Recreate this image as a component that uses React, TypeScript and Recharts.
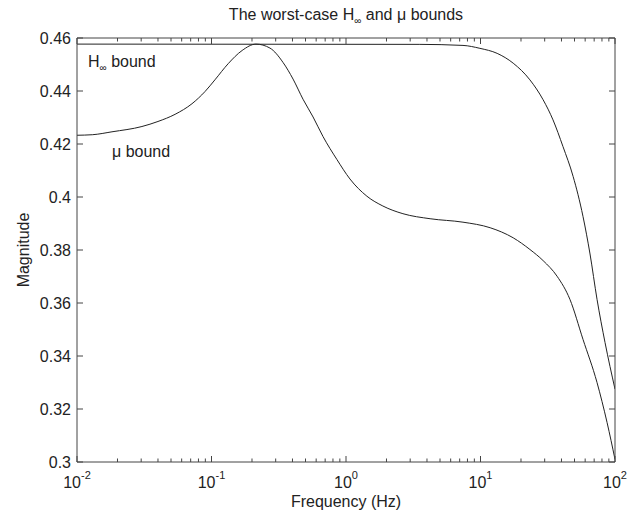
import { LineChart, Line, XAxis, YAxis } from "recharts";

const FREQ_TICKS = [0.01, 0.1, 1, 10, 100];
const FREQ_EXPONENTS = ["-2", "-1", "0", "1", "2"];
const MINOR_STEPS = [2, 3, 4, 5, 6, 7, 8, 9];
const MAG_TICKS = [0.3, 0.32, 0.34, 0.36, 0.38, 0.4, 0.42, 0.44, 0.46];
const MAG_LABELS = ["0.3", "0.32", "0.34", "0.36", "0.38", "0.4", "0.42", "0.44", "0.46"];

// mu bound
const MU_FREQ = [
  0.01, 0.013, 0.0182, 0.0304, 0.04, 0.0536, 0.0716, 0.0895, 0.106, 0.133, 0.169, 0.214,
  0.272, 0.34, 0.404, 0.479, 0.569, 0.675, 0.857, 1.07, 1.43, 1.88, 2.65, 4.22, 7.41,
  11.8, 17.5, 23.3, 29.2, 37.1, 46.2, 57.8, 73.5, 87.3, 100,
];
const MU_MAG = [
  0.4233, 0.4235, 0.4246, 0.4266, 0.4285, 0.4312, 0.4352, 0.4398, 0.4442, 0.4503, 0.4553,
  0.4577, 0.4562, 0.4508, 0.4445, 0.4369, 0.4302, 0.4228, 0.4141, 0.4068, 0.4003, 0.3966,
  0.3937, 0.3918, 0.3905, 0.3884, 0.3846, 0.3802, 0.376, 0.3701, 0.3614, 0.3463, 0.33,
  0.3149, 0.301,
];

// H-infinity bound
const HINF_FREQ = [0.01, 3.5, 7.41, 9.9, 13.3, 17.5, 23.3, 29.2, 34.6, 41, 48.8, 57.8, 65.2, 73.5, 84.3, 100];
const HINF_MAG = [
  0.4577, 0.4576, 0.4572, 0.4561, 0.4542, 0.4505, 0.4442, 0.4367, 0.4291, 0.4191, 0.4078,
  0.3927, 0.3785, 0.3614, 0.3451, 0.3275,
];

const muData = MU_FREQ.map((f, i) => ({ f, v: MU_MAG[i] }));
const hinfData = HINF_FREQ.map((f, i) => ({ f, v: HINF_MAG[i] }));
const minorTicks = FREQ_TICKS.slice(0, -1).flatMap((d) => MINOR_STEPS.map((m) => +(d * m).toPrecision(3)));
const allFreqTicks = [...FREQ_TICKS, ...minorTicks].sort((a, b) => a - b);

const FONT = '"Liberation Sans", Arial, Helvetica, sans-serif';
const INK = "#222";
const AXIS = "#444";
const W = 639;
const H = 519;
const MAJOR = 6;
const MINOR = 3.5;

const isMajor = (v: number) => FREQ_TICKS.includes(v);

// bottom axis: inward tick + 10^n label on decades
const BottomTick = (props: any) => {
  const { x, y, payload } = props;
  const major = isMajor(payload.value);
  const i = FREQ_TICKS.indexOf(payload.value);
  return (
    <g>
      <line x1={x} x2={x} y1={y} y2={y - (major ? MAJOR : MINOR)} stroke={AXIS} />
      {major && (
        <text x={x} y={y + 26} textAnchor="middle" fontFamily={FONT} fontSize={16} fill={INK}>
          <tspan>10</tspan>
          <tspan dy={-9} fontSize={11}>
            {FREQ_EXPONENTS[i]}
          </tspan>
        </text>
      )}
    </g>
  );
};

const TopTick = (props: any) => {
  const { x, y, payload } = props;
  return <line x1={x} x2={x} y1={y} y2={y + (isMajor(payload.value) ? MAJOR : MINOR)} stroke={AXIS} />;
};

const LeftTick = (props: any) => {
  const { x, y, payload } = props;
  const i = MAG_TICKS.findIndex((t) => Math.abs(t - payload.value) < 1e-9);
  return (
    <g>
      <line x1={x} x2={x + MAJOR} y1={y} y2={y} stroke={AXIS} />
      <text x={x - 6} y={y} dy={5.5} textAnchor="end" fontFamily={FONT} fontSize={16} fill={INK}>
        {MAG_LABELS[i]}
      </text>
    </g>
  );
};

const RightTick = (props: any) => {
  const { x, y } = props;
  return <line x1={x} x2={x - MAJOR} y1={y} y2={y} stroke={AXIS} />;
};

const xCommon = {
  type: "number" as const,
  dataKey: "f",
  scale: "log" as const,
  domain: [0.01, 100],
  allowDataOverflow: true,
  ticks: allFreqTicks,
  interval: 0,
  tickLine: false,
  tickSize: 0,
  tickMargin: 0,
  stroke: AXIS,
};
const yCommon = {
  type: "number" as const,
  domain: [0.3, 0.46],
  allowDataOverflow: true,
  ticks: MAG_TICKS,
  interval: 0,
  tickLine: false,
  tickSize: 0,
  tickMargin: 0,
  stroke: AXIS,
};

const sub = { fontSize: 10, lineHeight: 0, verticalAlign: "-4px" };

export default function App() {
  return (
    <div style={{ position: "absolute", left: 0, top: 0, width: W, height: H, background: "#fff", fontFamily: FONT, color: INK, lineHeight: "18px" }}>
      <div style={{ position: "absolute", left: 77, width: 538, top: 6, textAlign: "center", fontSize: 16 }}>
        The worst-case H<span style={sub}>∞</span> and μ bounds
      </div>
      <div style={{ position: "absolute", left: 77, width: 538, top: 493, textAlign: "center", fontSize: 16 }}>
        Frequency (Hz)
      </div>
      <div
        style={{
          position: "absolute",
          left: 24,
          top: 250,
          transform: "translate(-50%, -50%) rotate(-90deg)",
          fontSize: 16,
          whiteSpace: "nowrap",
        }}
      >
        Magnitude
      </div>
      <div style={{ position: "absolute", left: 88, top: 53, fontSize: 16, whiteSpace: "nowrap" }}>
        H<span style={sub}>∞</span> bound
      </div>
      <div style={{ position: "absolute", left: 112, top: 143, fontSize: 16, whiteSpace: "nowrap" }}>
        μ bound
      </div>
      <LineChart width={W} height={H} margin={{ top: 37, right: 23, bottom: 27, left: 27 }}>
        <XAxis {...xCommon} xAxisId="main" height={30} tick={<BottomTick />} />
        <XAxis {...xCommon} xAxisId="top" orientation="top" height={1} tick={<TopTick />} />
        <YAxis {...yCommon} yAxisId="main" width={50} tick={<LeftTick />} />
        <YAxis {...yCommon} yAxisId="right" orientation="right" width={1} tick={<RightTick />} />
        <Line data={hinfData} xAxisId="main" yAxisId="main" dataKey="v" type="monotone" stroke={INK} strokeWidth={1} dot={false} isAnimationActive={false} />
        <Line data={muData} xAxisId="main" yAxisId="main" dataKey="v" type="monotone" stroke={INK} strokeWidth={1} dot={false} isAnimationActive={false} />
      </LineChart>
    </div>
  );
}
